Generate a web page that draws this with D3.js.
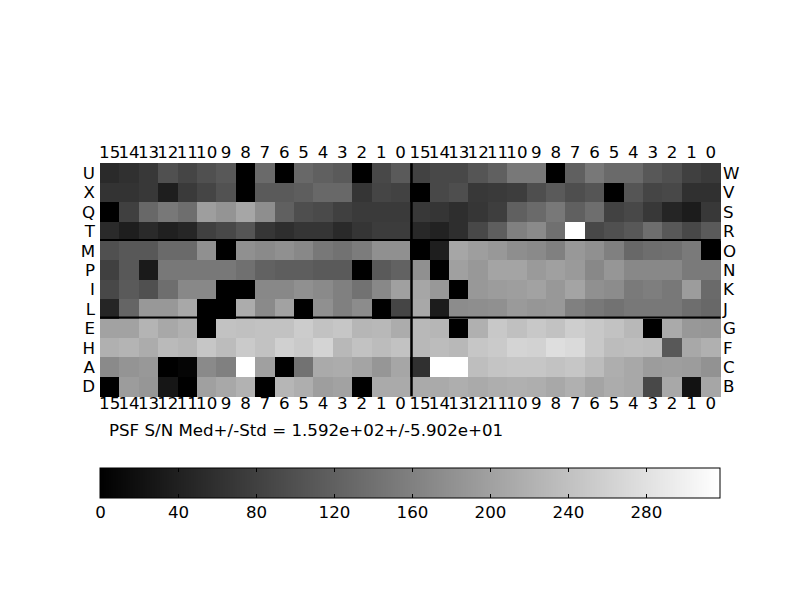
<!DOCTYPE html>
<html>
<head>
<meta charset="utf-8">
<script src="https://cdn.jsdelivr.net/npm/d3@7"></script>
<style>
  html, body { margin: 0; padding: 0; background: #fff; }
  svg { display: block; }
  text { font-family: "DejaVu Sans", sans-serif; fill: #000; }
</style>
</head>
<body>
<svg id="chart" width="800" height="600"></svg>
<script>
// ---- data ----
const colLabels = ["15","14","13","12","11","10","9","8","7","6","5","4","3","2","1","0",
                   "15","14","13","12","11","10","9","8","7","6","5","4","3","2","1","0"];
const rowLabelsLeft  = ["U","X","Q","T","M","P","I","L","E","H","A","D"];
const rowLabelsRight = ["W","V","S","R","O","N","K","J","G","F","C","B"];
const colorbarTicks = [0, 40, 80, 120, 160, 200, 240, 280];
const valueMax = 318;
const titleText = "PSF S/N Med+/-Std = 1.592e+02+/-5.902e+01";

const snGrid = [
  [52,60,70,100,86,100,110,0,132,0,130,120,112,0,90,112,   82,90,90,106,120,150,150,0,120,150,132,132,110,100,80,72],
  [64,64,70,37,72,86,102,0,112,112,117,130,130,66,86,82,   0,90,97,70,72,76,97,112,97,106,0,106,86,90,60,60],
  [0,80,130,150,137,197,185,207,177,120,97,92,80,72,72,72,  70,66,57,67,77,120,132,150,120,137,82,90,70,46,35,70],
  [52,37,52,40,47,80,90,106,67,57,66,66,52,66,75,75,       50,42,57,90,117,160,172,140,318,90,100,110,137,110,90,112],
  [100,110,110,132,132,180,0,180,172,180,170,150,142,155,180,180, 0,37,207,197,190,177,172,160,190,180,160,130,137,140,152,0],
  [80,110,32,150,150,150,150,140,122,117,117,112,112,0,112,122, 180,0,200,190,205,205,192,200,192,170,187,170,170,170,152,152],
  [90,112,100,137,170,170,0,0,170,170,180,172,160,142,170,200, 207,190,0,190,195,197,202,190,205,180,175,152,157,150,195,132],
  [46,126,190,190,210,0,0,215,172,202,0,180,160,175,0,86,   210,35,175,177,180,192,187,190,160,150,142,150,150,150,137,130],
  [202,202,224,210,219,0,242,239,242,242,254,242,247,227,229,215, 229,227,0,219,249,239,249,242,257,249,242,229,0,212,190,187],
  [219,224,215,232,227,247,234,252,242,259,252,264,229,242,234,242, 229,234,229,247,252,264,262,277,272,249,234,237,234,110,210,219],
  [172,185,190,0,6,172,160,318,200,0,142,212,215,205,187,207, 60,318,318,237,244,247,247,242,247,234,217,210,195,197,195,182],
  [0,195,187,27,0,200,210,222,0,227,217,197,202,0,212,212,  212,212,217,212,217,219,217,210,219,205,215,210,90,210,22,207]
];

// ---- layout ----
const svg = d3.select("#chart");
const X0 = 100, X1 = 720.6, Y0 = 163.3, Y1 = 396.2;
const nCols = colLabels.length, nRows = rowLabelsLeft.length;

const x = d3.scaleBand().domain(d3.range(nCols)).range([X0, X1]).padding(0);
const y = d3.scaleBand().domain(d3.range(nRows)).range([Y0, Y1]).padding(0);
const color = d3.scaleLinear().domain([0, valueMax]).range(["#000000", "#ffffff"]).clamp(true);

const cells = [];
snGrid.forEach((row, r) => row.forEach((v, c) => cells.push({r, c, v})));

svg.append("g").selectAll("rect").data(cells).join("rect")
  .attr("x", d => x(d.c))
  .attr("y", d => y(d.r))
  .attr("width", x.bandwidth() + 0.6)
  .attr("height", y.bandwidth() + 0.6)
  .attr("fill", d => color(d.v))
  .attr("shape-rendering", "crispEdges");

// separator lines
const lines = svg.append("g").attr("stroke", "#000");
lines.append("line")
  .attr("x1", x(16) + 1.2).attr("x2", x(16) + 1.2)
  .attr("y1", Y0).attr("y2", Y1)
  .attr("stroke-width", 2.5);
[4, 8].forEach(k => {
  lines.append("line")
    .attr("x1", X0).attr("x2", X1)
    .attr("y1", y(k) - 1).attr("y2", y(k) - 1)
    .attr("stroke-width", 2);
});

// column labels (top & bottom)
const fs = 16.67;
svg.append("g").selectAll("text").data(colLabels).join("text")
  .attr("x", (d, i) => x(i) + x.bandwidth() / 2)
  .attr("y", 157.5)
  .attr("text-anchor", "middle")
  .attr("font-size", fs)
  .text(d => d);
svg.append("g").selectAll("text").data(colLabels).join("text")
  .attr("x", (d, i) => x(i) + x.bandwidth() / 2)
  .attr("y", 409)
  .attr("text-anchor", "middle")
  .attr("font-size", fs)
  .text(d => d);

// row labels
svg.append("g").selectAll("text").data(rowLabelsLeft).join("text")
  .attr("x", 95)
  .attr("y", (d, i) => y(i) + y.bandwidth() / 2)
  .attr("dy", "0.36em")
  .attr("text-anchor", "end")
  .attr("font-size", fs)
  .text(d => d);
svg.append("g").selectAll("text").data(rowLabelsRight).join("text")
  .attr("x", 723)
  .attr("y", (d, i) => y(i) + y.bandwidth() / 2)
  .attr("dy", "0.36em")
  .attr("text-anchor", "start")
  .attr("font-size", fs)
  .text(d => d);

// title text
svg.append("text")
  .attr("x", 109).attr("y", 435.5)
  .attr("font-size", fs)
  .text(titleText);

// ---- colorbar ----
const CB_X0 = 100, CB_X1 = 720, CB_Y0 = 468, CB_Y1 = 498;
const cbScale = d3.scaleLinear().domain([0, valueMax]).range([CB_X0, CB_X1]);
const steps = d3.range(0, 620);
const cb = svg.append("g");
cb.selectAll("rect").data(steps).join("rect")
  .attr("x", i => CB_X0 + i)
  .attr("y", CB_Y0)
  .attr("width", 1.2)
  .attr("height", CB_Y1 - CB_Y0)
  .attr("fill", i => color(cbScale.invert(CB_X0 + i + 0.5)))
  .attr("shape-rendering", "crispEdges");
cb.append("rect")
  .attr("x", CB_X0).attr("y", CB_Y0)
  .attr("width", CB_X1 - CB_X0).attr("height", CB_Y1 - CB_Y0)
  .attr("fill", "none").attr("stroke", "#000").attr("stroke-width", 1);

const cbAxis = d3.axisBottom(cbScale).tickValues(colorbarTicks).tickSize(0).tickPadding(0);
const axG = svg.append("g").attr("transform", `translate(0,${CB_Y1})`).call(cbAxis);
axG.select(".domain").remove();
axG.selectAll("text").attr("font-size", fs).attr("font-family", "DejaVu Sans, sans-serif")
  .attr("fill", "#000").attr("dy", null).attr("y", 19.5);
// inner tick marks top & bottom
const tickG = svg.append("g").attr("stroke", "#000").attr("stroke-width", 1);
colorbarTicks.filter(t => t > 0).forEach(t => {
  const px = Math.round(cbScale(t)) + 0.5;
  tickG.append("line").attr("x1", px).attr("x2", px).attr("y1", CB_Y0).attr("y2", CB_Y0 + 4);
  tickG.append("line").attr("x1", px).attr("x2", px).attr("y1", CB_Y1 - 4).attr("y2", CB_Y1);
});
</script>
</body>
</html>
